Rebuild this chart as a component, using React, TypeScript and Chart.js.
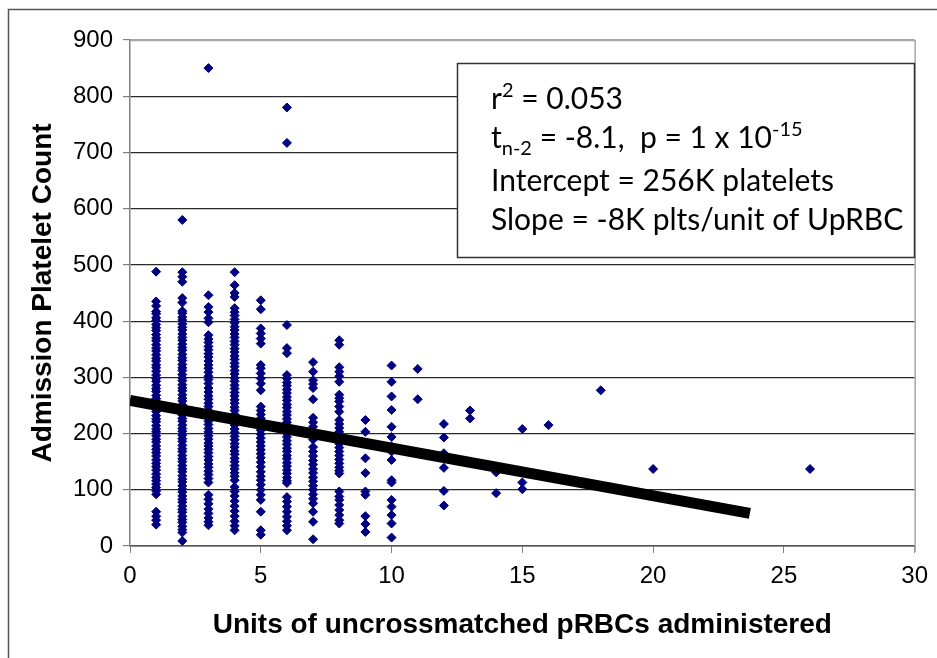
import React, { useEffect, useRef } from "react";
import { Chart, registerables } from "chart.js";

Chart.register(...registerables);

// ---- data ----
const xTitle = "Units of uncrossmatched pRBCs administered";
const yTitle = "Admission Platelet Count";

const u1 = [488, 435, 427, 417, 413, 406, 401, 394, 388, 383, 376, 370, 365, 358, 352, 347, 340, 334, 329, 322, 317, 311, 304, 298, 293, 286, 280, 275, 268, 262, 257, 250, 244, 239, 232, 226, 221, 214, 208, 203, 196, 190, 185, 178, 172, 166, 160, 153, 147, 141, 135, 128, 122, 116, 110, 104, 98, 92, 61, 53, 46, 38];
const u2 = [580, 487, 479, 470, 441, 433, 418, 414, 407, 402, 395, 389, 384, 377, 371, 366, 359, 353, 348, 341, 335, 330, 323, 317, 312, 305, 299, 294, 287, 281, 276, 269, 263, 258, 251, 245, 240, 233, 227, 222, 215, 209, 204, 197, 191, 186, 179, 173, 168, 161, 155, 150, 143, 137, 132, 125, 119, 114, 107, 101, 96, 89, 83, 78, 71, 65, 60, 53, 47, 42, 35, 29, 24, 9];
const u3 = [850, 446, 425, 416, 405, 398, 375, 368, 362, 355, 349, 342, 336, 329, 322, 316, 309, 302, 296, 289, 281, 274, 267, 261, 254, 248, 241, 235, 228, 222, 216, 209, 203, 196, 190, 183, 178, 172, 166, 159, 153, 146, 140, 133, 127, 120, 113, 91, 83, 75, 66, 58, 50, 43, 37];
const u4 = [487, 464, 450, 443, 423, 416, 410, 403, 397, 390, 384, 377, 371, 364, 358, 351, 345, 338, 332, 325, 319, 312, 306, 299, 293, 286, 280, 273, 267, 260, 254, 247, 241, 234, 228, 221, 215, 208, 202, 195, 189, 182, 176, 169, 163, 156, 150, 143, 137, 130, 124, 117, 105, 97, 89, 80, 71, 62, 53, 44, 36, 28];
const u5 = [437, 421, 387, 378, 369, 360, 322, 316, 307, 298, 289, 277, 248, 241, 234, 227, 220, 213, 206, 199, 192, 185, 178, 171, 164, 157, 149, 141, 132, 124, 117, 109, 100, 91, 82, 61, 28, 20];
const u6 = [780, 717, 393, 352, 343, 304, 298, 291, 285, 278, 272, 265, 259, 252, 246, 239, 233, 226, 220, 213, 207, 200, 194, 187, 181, 174, 168, 161, 155, 148, 142, 135, 129, 122, 116, 112, 87, 79, 70, 61, 52, 44, 36, 28];
const u7 = [327, 310, 295, 288, 281, 261, 228, 220, 212, 205, 197, 189, 176, 168, 160, 152, 145, 137, 130, 122, 115, 107, 100, 92, 84, 76, 61, 43, 12];
const u8 = [366, 358, 318, 310, 302, 292, 269, 263, 257, 248, 239, 224, 217, 210, 203, 196, 189, 182, 175, 168, 161, 154, 147, 140, 134, 129, 97, 88, 82, 73, 64, 55, 46, 40];
const u9 = [224, 203, 156, 130, 97, 91, 53, 39, 25];
const u10 = [321, 292, 266, 242, 212, 194, 177, 168, 153, 117, 113, 82, 70, 55, 40, 15];
const u11 = [315, 261];
const u12 = [217, 193, 165, 139, 98, 72];
const u13 = [241, 227];
const u14 = [131, 94];
const u15 = [208, 113, 101];
const u16 = [215];
const u18 = [277];
const u20 = [137];
const u26 = [137];

const unitValues = [1, 2, 3, 4, 5, 6, 7, 8, 9, 10, 11, 12, 13, 14, 15, 16, 18, 20, 26];
const plateletColumns = [u1, u2, u3, u4, u5, u6, u7, u8, u9, u10, u11, u12, u13, u14, u15, u16, u18, u20, u26];

const trendX = [0, 23.7];
const trendY = [259, 58];

const statLines = [
  [{ t: "r" }, { t: "2", sup: true }, { t: " = 0.053" }],
  [{ t: "t" }, { t: "n-2", sub: true }, { t: " = -8.1,  p = 1 x 10" }, { t: "-15", sup: true }],
  [{ t: "Intercept = 256K platelets" }],
  [{ t: "Slope = -8K plts/unit of UpRBC" }],
];

const scatterPoints = unitValues.flatMap((u, i) => plateletColumns[i].map((v) => ({ x: u, y: v })));
const trendPoints = trendX.map((x, i) => ({ x, y: trendY[i] }));

const TICK_FONT = { family: "'Liberation Sans', Arial, sans-serif", size: 24 };
const TITLE_FONT = { family: "'Liberation Sans', Arial, sans-serif", size: 28, weight: "bold" as const };

const framePlugin = {
  id: "frame",
  beforeDraw(chart: any) {
    const ctx = chart.ctx;
    ctx.save();
    ctx.fillStyle = "#ffffff";
    ctx.fillRect(0, 0, chart.width, chart.height);
    ctx.strokeStyle = "#555555";
    ctx.lineWidth = 1.5;
    ctx.beginPath();
    ctx.moveTo(8.5, chart.height);
    ctx.lineTo(8.5, 9.5);
    ctx.lineTo(chart.width, 9.5);
    ctx.stroke();
    ctx.restore();
  },
  beforeDatasetsDraw(chart: any) {
    const { ctx, chartArea } = chart;
    ctx.save();
    ctx.strokeStyle = "#a6a6a6";
    ctx.lineWidth = 1.5;
    ctx.beginPath();
    ctx.moveTo(chartArea.left, chartArea.top + 0.5);
    ctx.lineTo(chartArea.right + 0.5, chartArea.top + 0.5);
    ctx.lineTo(chartArea.right + 0.5, chartArea.bottom + 6);
    ctx.stroke();
    ctx.restore();
  },
};

const boxPlugin = {
  id: "statBox",
  afterDatasetsDraw(chart: any) {
    const ctx = chart.ctx;
    const bx = 457, by = 63, bw = 457, bh = 194;
    ctx.save();
    ctx.fillStyle = "#ffffff";
    ctx.fillRect(bx, by, bw, bh);
    ctx.strokeStyle = "#333333";
    ctx.lineWidth = 1.5;
    ctx.strokeRect(bx + 0.5, by + 0.5, bw, bh);
    const size = 30;
    const small = 20;
    const baselines = [109, 148, 191, 230];
    ctx.fillStyle = "#000000";
    ctx.textBaseline = "alphabetic";
    ctx.textAlign = "left";
    statLines.forEach((segs, li) => {
      let x = 491;
      const y = baselines[li];
      segs.forEach((s: any) => {
        const fs = s.sup || s.sub ? small : size;
        ctx.font = `${fs}px Lato, 'Open Sans', sans-serif`;
        const dy = s.sup ? -12 : s.sub ? 7 : 0;
        ctx.fillText(s.t, x, y + dy);
        x += ctx.measureText(s.t).width;
      });
    });
    ctx.restore();
  },
};

export default function App() {
  const ref = useRef<HTMLCanvasElement>(null);
  useEffect(() => {
    const chart = new Chart(ref.current as HTMLCanvasElement, {
      type: "scatter",
      data: {
        datasets: [
          {
            label: "Trend",
            data: trendPoints,
            showLine: true,
            borderColor: "#000000",
            borderWidth: 11,
            borderCapStyle: "butt",
            pointRadius: 0,
            order: 0,
          } as any,
          {
            label: "Platelets",
            data: scatterPoints,
            pointStyle: "rectRot",
            pointRadius: 4.5,
            pointBorderWidth: 1,
            backgroundColor: "#000080",
            borderColor: "#000080",
            order: 1,
          } as any,
        ],
      },
      options: {
        responsive: false,
        animation: false,
        layout: { padding: { top: 40, right: 15, left: 0, bottom: 0 } },
        plugins: { legend: { display: false }, tooltip: { enabled: false } },
        scales: {
          x: {
            type: "linear",
            min: 0,
            max: 30,
            ticks: { stepSize: 5, font: TICK_FONT, color: "#000", padding: 9, maxRotation: 0 },
            grid: { drawOnChartArea: false, drawTicks: true, tickLength: 7, tickColor: "#808080" },
            border: { display: true, color: "#555555", width: 1.5 },
            title: { display: true, text: xTitle, font: TITLE_FONT, color: "#000", padding: { top: 0, bottom: 16 } },
            afterFit: (scale: any) => { scale.height = 112; },
          },
          y: {
            type: "linear",
            min: 0,
            max: 900,
            ticks: { stepSize: 100, font: TICK_FONT, color: "#000", padding: 10 },
            grid: {
              drawOnChartArea: true,
              tickLength: 7,
              tickColor: "#808080",
              lineWidth: 1.2,
              color: (c: any) => (c.tick && c.tick.value === 900 ? "#a6a6a6" : "#2a2a2a"),
            },
            border: { display: true, color: "#808080", width: 1.5 },
            title: { display: true, text: yTitle, font: TITLE_FONT, color: "#000", padding: { top: 26, bottom: 0 } },
            afterFit: (scale: any) => { scale.width = 130; },
          },
        },
      },
      plugins: [framePlugin, boxPlugin],
    });
    return () => chart.destroy();
  }, []);
  return (
    <div style={{ position: "fixed", left: 0, top: 0, width: 937, height: 658, background: "#fff" }}>
      <canvas ref={ref} width={937} height={658} style={{ display: "block" }} />
    </div>
  );
}
